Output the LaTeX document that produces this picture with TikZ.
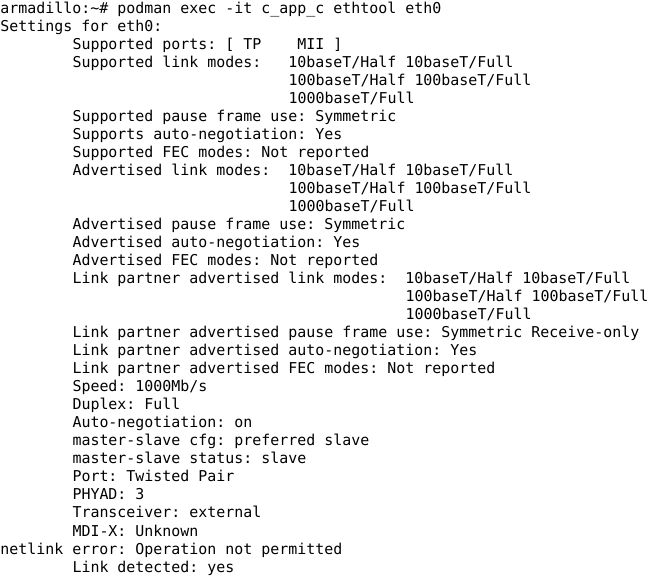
\documentclass[tikz,border=0pt]{standalone}
\usepackage{fontspec}
\setmonofont{DejaVu Sans Mono}
\newcommand{\termfont}{\ttfamily\fontsize{14.95}{18}\selectfont}
\tikzset{
  termline/.style={anchor=base west,inner sep=0pt,outer sep=0pt,font=\termfont,text=black},
}
\begin{document}
\begin{tikzpicture}[x=1pt,y=-1pt]
    \useasboundingbox[fill=white] (0,0) rectangle (670,577);
    \node[termline] (l1) at (0.5,14) {armadillo:\string~\#~podman exec -it c\_app\_c ethtool eth0};
    \node[termline] (l2) at (0.5,32) {Settings for eth0:};
    \node[termline] (l3) at (72.5,50) {Supported ports: [ TP~~~~MII ]};
    \node[termline] (l4) at (72.5,68) {Supported link modes:~~~10baseT/Half 10baseT/Full};
    \node[termline] (l5) at (288.5,86) {100baseT/Half 100baseT/Full};
    \node[termline] (l6) at (288.5,104) {1000baseT/Full};
    \node[termline] (l7) at (72.5,122) {Supported pause frame use: Symmetric};
    \node[termline] (l8) at (72.5,140) {Supports auto-negotiation: Yes};
    \node[termline] (l9) at (72.5,158) {Supported FEC modes: Not reported};
    \node[termline] (l10) at (72.5,176) {Advertised link modes:~~10baseT/Half 10baseT/Full};
    \node[termline] (l11) at (288.5,194) {100baseT/Half 100baseT/Full};
    \node[termline] (l12) at (288.5,212) {1000baseT/Full};
    \node[termline] (l13) at (72.5,230) {Advertised pause frame use: Symmetric};
    \node[termline] (l14) at (72.5,248) {Advertised auto-negotiation: Yes};
    \node[termline] (l15) at (72.5,266) {Advertised FEC modes: Not reported};
    \node[termline] (l16) at (72.5,284) {Link partner advertised link modes:~~10baseT/Half 10baseT/Full};
    \node[termline] (l17) at (405.5,302) {100baseT/Half 100baseT/Full};
    \node[termline] (l18) at (405.5,320) {1000baseT/Full};
    \node[termline] (l19) at (72.5,338) {Link partner advertised pause frame use: Symmetric Receive-only};
    \node[termline] (l20) at (72.5,356) {Link partner advertised auto-negotiation: Yes};
    \node[termline] (l21) at (72.5,374) {Link partner advertised FEC modes: Not reported};
    \node[termline] (l22) at (72.5,392) {Speed: 1000Mb/s};
    \node[termline] (l23) at (72.5,410) {Duplex: Full};
    \node[termline] (l24) at (72.5,428) {Auto-negotiation: on};
    \node[termline] (l25) at (72.5,446) {master-slave cfg: preferred slave};
    \node[termline] (l26) at (72.5,464) {master-slave status: slave};
    \node[termline] (l27) at (72.5,482) {Port: Twisted Pair};
    \node[termline] (l28) at (72.5,500) {PHYAD: 3};
    \node[termline] (l29) at (72.5,518) {Transceiver: external};
    \node[termline] (l30) at (72.5,536) {MDI-X: Unknown};
    \node[termline] (l31) at (0.5,554) {netlink error: Operation not permitted};
    \node[termline] (l32) at (72.5,572) {Link detected: yes};
\end{tikzpicture}
\end{document}
